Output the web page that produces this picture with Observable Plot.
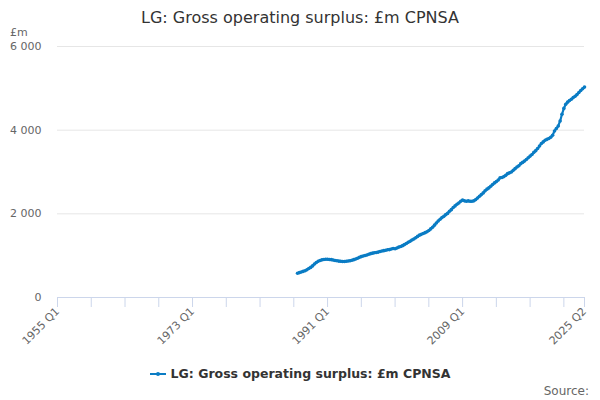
<!DOCTYPE html>
<html>
<head>
<meta charset="utf-8">
<script src="https://cdn.jsdelivr.net/npm/d3@7"></script>
<script src="https://cdn.jsdelivr.net/npm/@observablehq/plot@0.6"></script>
<style>
  body { margin: 0; background: #fff; font-family: "DejaVu Sans", sans-serif; }
  #wrap { position: relative; width: 600px; height: 400px; overflow: hidden; }
  .ov { position: absolute; white-space: nowrap; }
  #title { top: 8px; left: 0; width: 600px; text-align: center; font-size: 16px; color: #333; line-height: 20px; }
  #unit { top: 26px; left: 10px; font-size: 11px; color: #666; line-height: 14px; }
  #legend { top: 366px; left: 0; width: 600px; text-align: center; font-size: 12.5px; font-weight: bold; color: #333; line-height: 16px; }
  #legend .sw { display: inline-block; position: relative; width: 16px; height: 2px; background: #0a7cc4; vertical-align: middle; margin-right: 5px; top: -1px; }
  #legend .sw::after { content: ""; position: absolute; left: 6px; top: -1px; width: 4px; height: 4px; border-radius: 2px; background: #0a7cc4; }
  #source { top: 383px; right: 11px; font-size: 12px; color: #666; line-height: 16px; }
</style>
</head>
<body>
<div id="wrap">
  <div id="chart"></div>
  <div class="ov" id="title">LG: Gross operating surplus: £m CPNSA</div>
  <div class="ov" id="unit">£m</div>
  <div class="ov" id="legend"><span class="sw"></span>LG: Gross operating surplus: £m CPNSA</div>
  <div class="ov" id="source">Source:</div>
</div>
<script>
// First quarter of the series
const startYear = 1987;
// Quarterly values, £m, 1987 Q1 to 2025 Q2
const values = [
  580, 595, 610, 625,
  640, 665, 695, 720,
  755, 800, 835, 865,
  885, 900, 910, 915,
  915, 910, 905, 895,
  885, 878, 870, 865,
  862, 862, 866, 872,
  880, 892, 905, 920,
  940, 960, 978, 992,
  1005, 1015, 1035, 1050,
  1060, 1068, 1075, 1085,
  1100, 1112, 1120, 1130,
  1140, 1145, 1160, 1170,
  1165, 1185, 1205, 1220,
  1240, 1265, 1290, 1320,
  1345, 1375, 1400, 1430,
  1460, 1490, 1510, 1530,
  1550, 1570, 1600, 1640,
  1680, 1730, 1780, 1830,
  1870, 1910, 1940, 1980,
  2010, 2060, 2100, 2150,
  2190, 2230, 2260, 2300,
  2330, 2310, 2300, 2310,
  2300, 2300, 2310, 2340,
  2380, 2420, 2460, 2500,
  2550, 2590, 2620, 2660,
  2700, 2740, 2770, 2810,
  2860, 2870, 2890, 2920,
  2960, 2980, 3000, 3040,
  3080, 3120, 3150, 3200,
  3230, 3260, 3300, 3340,
  3380, 3420, 3470, 3510,
  3560, 3620, 3680, 3720,
  3760, 3780, 3800, 3830,
  3880, 3980, 4040, 4100,
  4220, 4380, 4520, 4620,
  4670, 4710, 4740, 4780,
  4810, 4850, 4900, 4950,
  4990, 5030
];
// Axis categories and labels
const axisStart = 1955;          // 1955 Q1
const axisEnd = 2025.25;         // 2025 Q2
const xTickValues = [1955, 1959.5, 1964, 1968.5, 1973, 1977.5, 1982, 1986.5, 1991, 1995.5, 2000, 2004.5, 2009, 2013.5, 2018, 2022.5, 2025.25];
const xLabelValues = [1955, 1973, 1991, 2009, 2025.25];
const xLabels = ["1955 Q1", "1973 Q1", "1991 Q1", "2009 Q1", "2025 Q2"];
const yTicks = [0, 2000, 4000, 6000];

const data = values.map((v, i) => ({
  t: startYear + i / 4,
  period: `${startYear + Math.floor(i / 4)} Q${(i % 4) + 1}`,
  value: v
}));

const fmtY = d => d3.format(",")(d).replace(/,/g, " ");
const fmtX = d => xLabels[xLabelValues.indexOf(d)];
const color = "#0a7cc4";

const chart = Plot.plot({
  width: 600,
  height: 400,
  marginTop: 46,
  marginBottom: 103,
  marginLeft: 57,
  marginRight: 16,
  style: { fontFamily: "DejaVu Sans, sans-serif", background: "transparent" },
  x: { type: "linear", domain: [axisStart, axisEnd] },
  y: { domain: [0, 6000] },
  marks: [
    Plot.gridY(yTicks.slice(1), { stroke: "#e6e6e6", strokeOpacity: 1 }),
    Plot.axisY(yTicks, { tickSize: 0, tickPadding: 16, tickFormat: fmtY, fill: "#666", fontSize: 11, label: null }),
    Plot.ruleY([0], { stroke: "#ccd6eb" }),
    Plot.axisX(xTickValues, { tickSize: 10, stroke: "#ccd6eb", strokeOpacity: 1, tickFormat: () => "", label: null }),
    Plot.axisX(xLabelValues, { tickSize: 0, tickPadding: 12, tickRotate: -45, tickFormat: fmtX, fill: "#666", fontSize: 11, label: null }),
    Plot.line(data, { x: "t", y: "value", stroke: color, strokeWidth: 2.2 }),
    Plot.dot(data, { x: "t", y: "value", r: 1.8, fill: color, stroke: "none" })
  ]
});
document.getElementById("chart").appendChild(chart);
</script>
</body>
</html>
